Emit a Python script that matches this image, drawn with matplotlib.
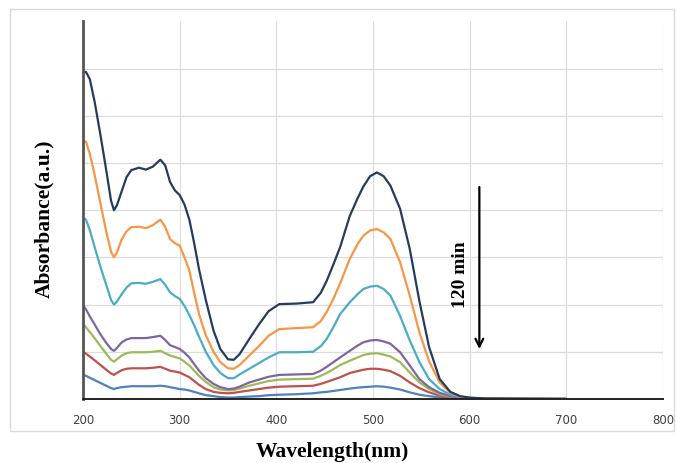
import matplotlib
matplotlib.use("Agg")
import matplotlib.pyplot as plt
from matplotlib.patches import Rectangle

# wavelength grid (nm) shared by all spectra
wl = [200, 203, 207, 212, 218, 224, 229, 232, 235, 240,
      245, 250, 258, 265, 272, 280, 285, 290, 295, 300,
      305, 310, 315, 320, 327, 335, 342, 350, 356, 362,
      372, 382, 392, 403, 420, 438, 446, 452, 459, 466,
      476, 484, 490, 497, 504, 511, 518, 528, 538, 548,
      558, 569, 580, 590, 600, 615, 700]

# absorbance (a.u.), first spectrum (t=0) down to the last one (120 min)
a0 = [6.92, 6.93, 6.78, 6.30, 5.60, 4.85, 4.20, 4.00, 4.10, 4.40,
      4.70, 4.85, 4.90, 4.86, 4.92, 5.07, 4.95, 4.60, 4.42, 4.32,
      4.12, 3.80, 3.30, 2.75, 2.10, 1.45, 1.06, 0.84, 0.83, 0.95,
      1.27, 1.58, 1.86, 2.01, 2.02, 2.05, 2.25, 2.50, 2.85, 3.22,
      3.88, 4.25, 4.50, 4.72, 4.80, 4.72, 4.52, 4.03, 3.18, 2.07,
      1.10, 0.42, 0.15, 0.06, 0.03, 0.01, 0.0]
a1 = [5.47, 5.45, 5.20, 4.75, 4.15, 3.55, 3.12, 3.00, 3.10, 3.38,
      3.55, 3.64, 3.65, 3.62, 3.68, 3.80, 3.65, 3.39, 3.30, 3.25,
      3.00, 2.72, 2.25, 1.80, 1.35, 1.00, 0.78, 0.65, 0.64, 0.72,
      0.92, 1.12, 1.34, 1.48, 1.50, 1.52, 1.65, 1.84, 2.12, 2.45,
      2.97, 3.28, 3.46, 3.57, 3.60, 3.53, 3.39, 2.90, 2.19, 1.41,
      0.80, 0.35, 0.13, 0.05, 0.02, 0.01, 0.0]
a2 = [3.85, 3.80, 3.58, 3.22, 2.80, 2.42, 2.10, 2.00, 2.06, 2.22,
      2.36, 2.45, 2.46, 2.44, 2.48, 2.54, 2.42, 2.26, 2.18, 2.12,
      1.97, 1.78, 1.56, 1.32, 1.00, 0.72, 0.55, 0.44, 0.44, 0.52,
      0.64, 0.76, 0.88, 0.99, 0.99, 1.00, 1.12, 1.27, 1.52, 1.80,
      2.05, 2.22, 2.33, 2.38, 2.40, 2.33, 2.19, 1.76, 1.24, 0.78,
      0.42, 0.21, 0.09, 0.04, 0.02, 0.01, 0.0]
a3 = [1.99, 1.90, 1.75, 1.58, 1.37, 1.19, 1.06, 1.02, 1.08, 1.20,
      1.26, 1.29, 1.29, 1.29, 1.31, 1.34, 1.25, 1.14, 1.10, 1.06,
      0.98, 0.88, 0.74, 0.60, 0.44, 0.32, 0.25, 0.21, 0.22, 0.26,
      0.35, 0.41, 0.47, 0.51, 0.52, 0.53, 0.60, 0.68, 0.78, 0.88,
      1.02, 1.13, 1.20, 1.24, 1.25, 1.22, 1.17, 0.99, 0.71, 0.42,
      0.25, 0.13, 0.06, 0.03, 0.01, 0.0, 0.0]
a4 = [1.60, 1.52, 1.42, 1.29, 1.12, 0.96, 0.83, 0.79, 0.84, 0.92,
      0.97, 0.99, 0.99, 0.99, 1.00, 1.02, 0.97, 0.92, 0.89, 0.86,
      0.79, 0.71, 0.60, 0.49, 0.36, 0.25, 0.20, 0.18, 0.19, 0.22,
      0.28, 0.33, 0.38, 0.41, 0.42, 0.43, 0.49, 0.55, 0.63, 0.72,
      0.81, 0.88, 0.93, 0.96, 0.97, 0.94, 0.90, 0.78, 0.56, 0.35,
      0.21, 0.10, 0.05, 0.02, 0.01, 0.0, 0.0]
a5 = [1.00, 0.96, 0.90, 0.82, 0.72, 0.62, 0.54, 0.51, 0.55, 0.61,
      0.64, 0.65, 0.65, 0.65, 0.66, 0.68, 0.64, 0.60, 0.58, 0.56,
      0.51, 0.46, 0.38, 0.30, 0.21, 0.15, 0.13, 0.12, 0.13, 0.15,
      0.18, 0.21, 0.24, 0.26, 0.27, 0.28, 0.32, 0.36, 0.41, 0.46,
      0.55, 0.59, 0.62, 0.64, 0.64, 0.62, 0.59, 0.49, 0.35, 0.23,
      0.14, 0.07, 0.03, 0.01, 0.0, 0.0, 0.0]
a6 = [0.51, 0.49, 0.45, 0.40, 0.34, 0.28, 0.23, 0.21, 0.23, 0.25,
      0.26, 0.27, 0.27, 0.27, 0.27, 0.28, 0.27, 0.25, 0.23, 0.21,
      0.20, 0.18, 0.15, 0.12, 0.08, 0.06, 0.04, 0.03, 0.03, 0.04,
      0.05, 0.06, 0.08, 0.09, 0.10, 0.12, 0.14, 0.15, 0.17, 0.19,
      0.22, 0.24, 0.25, 0.26, 0.27, 0.26, 0.24, 0.20, 0.14, 0.09,
      0.06, 0.03, 0.01, 0.01, 0.0, 0.0, 0.0]

spectra = [a0, a1, a2, a3, a4, a5, a6]
colors = ["#243c5e", "#f79646", "#4bacc6", "#8064a2", "#9bbb59", "#c0504d", "#4f81bd"]
xticks = [200, 300, 400, 500, 600, 700, 800]

serif = ["Liberation Serif", "DejaVu Serif"]

fig = plt.figure(figsize=(6.76, 4.64), dpi=100)
# light frame around the chart area
fig.patches.append(Rectangle((10 / 676, 1 - 432 / 464), 664 / 676, 422 / 464,
                             transform=fig.transFigure, fill=False,
                             edgecolor="#d9d9d9", linewidth=1.0))

ax = fig.add_axes([0.1228, 0.138, 0.858, 0.8137])

for ys, c in zip(reversed(spectra), reversed(colors)):
    ax.plot(wl, ys, color=c, linewidth=1.6, solid_joinstyle="round", solid_capstyle="round")

ax.set_xlim(200, 800)
ax.set_ylim(0, 8)
ax.set_xticks(xticks)
ax.set_yticks(range(1, 8))
ax.set_yticklabels([])
ax.tick_params(axis="y", length=0)
ax.tick_params(axis="x", length=0, pad=10, labelsize=8.5, colors="#404040")
ax.grid(True, color="#dcdcdc", linewidth=0.9)
ax.set_axisbelow(True)

for s in ["top", "right"]:
    ax.spines[s].set_visible(False)
ax.spines["left"].set_color("#555555")
ax.spines["left"].set_linewidth(2.0)
ax.spines["bottom"].set_color("#222222")
ax.spines["bottom"].set_linewidth(1.4)

ax.set_xlabel("Wavelength(nm)", family=serif, fontweight="bold", fontsize=15.5)
ax.set_ylabel("Absorbance(a.u.)", family=serif, fontweight="bold", fontsize=15.5)
ax.xaxis.set_label_coords(0.43, -0.112)
ax.yaxis.set_label_coords(-0.05, 0.479)

# arrow showing the decrease over time
ax.annotate("", xy=(610, 1.0), xytext=(610, 4.55),
            arrowprops=dict(arrowstyle="->", color="black", lw=1.6, mutation_scale=14))
ax.text(590, 2.65, "120 min", rotation=90, ha="center", va="center",
        family=serif, fontweight="bold", fontsize=14)

fig.savefig("out.png", dpi=100)
